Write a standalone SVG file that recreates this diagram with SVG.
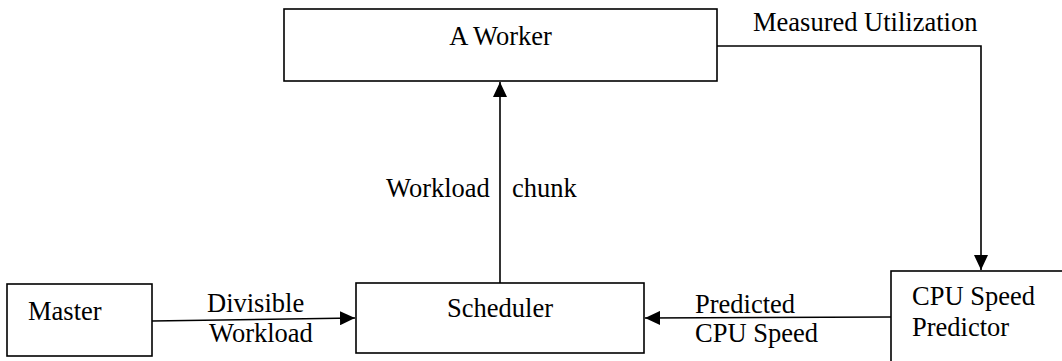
<svg xmlns="http://www.w3.org/2000/svg" width="1062" height="361" viewBox="0 0 1062 361">
<style>
.box{fill:#fff;stroke:#000;stroke-width:1.6}
.ln{fill:none;stroke:#000;stroke-width:1.6}
text{font-family:"Liberation Serif","Times New Roman",serif;font-size:26.5px;fill:#000}
</style>
<defs>
<marker id="ah" markerWidth="16" markerHeight="14" refX="15" refY="7" orient="auto" markerUnits="userSpaceOnUse">
<path d="M0,0 L15,7 L0,14 Z" fill="#000"/>
</marker>
</defs>
<rect width="1062" height="361" fill="#fff"/>
<g id="connectors">
<line class="ln" x1="500" y1="283" x2="500" y2="82" marker-end="url(#ah)"/>
<polyline class="ln" points="717,46 981,46 981,270" marker-end="url(#ah)"/>
<line class="ln" x1="891" y1="317" x2="645" y2="318" marker-end="url(#ah)"/>
<line class="ln" x1="152" y1="321" x2="355" y2="318" marker-end="url(#ah)"/>
<text x="386" y="197">Workload</text>
<text x="512" y="197">chunk</text>
<text x="753" y="31">Measured Utilization</text>
<text x="695" y="313">Predicted</text>
<text x="695" y="342">CPU Speed</text>
<text x="207" y="312">Divisible</text>
<text x="209" y="342">Workload</text>
</g>
<g id="worker">
<rect class="box" x="284" y="9" width="433" height="72"/>
<text x="500.5" y="45" text-anchor="middle">A Worker</text>
</g>
<g id="scheduler">
<rect class="box" x="356" y="283" width="288" height="70"/>
<text x="500" y="317" text-anchor="middle">Scheduler</text>
</g>
<g id="master">
<rect class="box" x="7" y="284" width="145" height="72"/>
<text x="28" y="320">Master</text>
</g>
<g id="predictor">
<rect class="box" x="891" y="271" width="190" height="110"/>
<text x="912" y="305">CPU Speed</text>
<text x="912" y="336">Predictor</text>
</g>
</svg>
